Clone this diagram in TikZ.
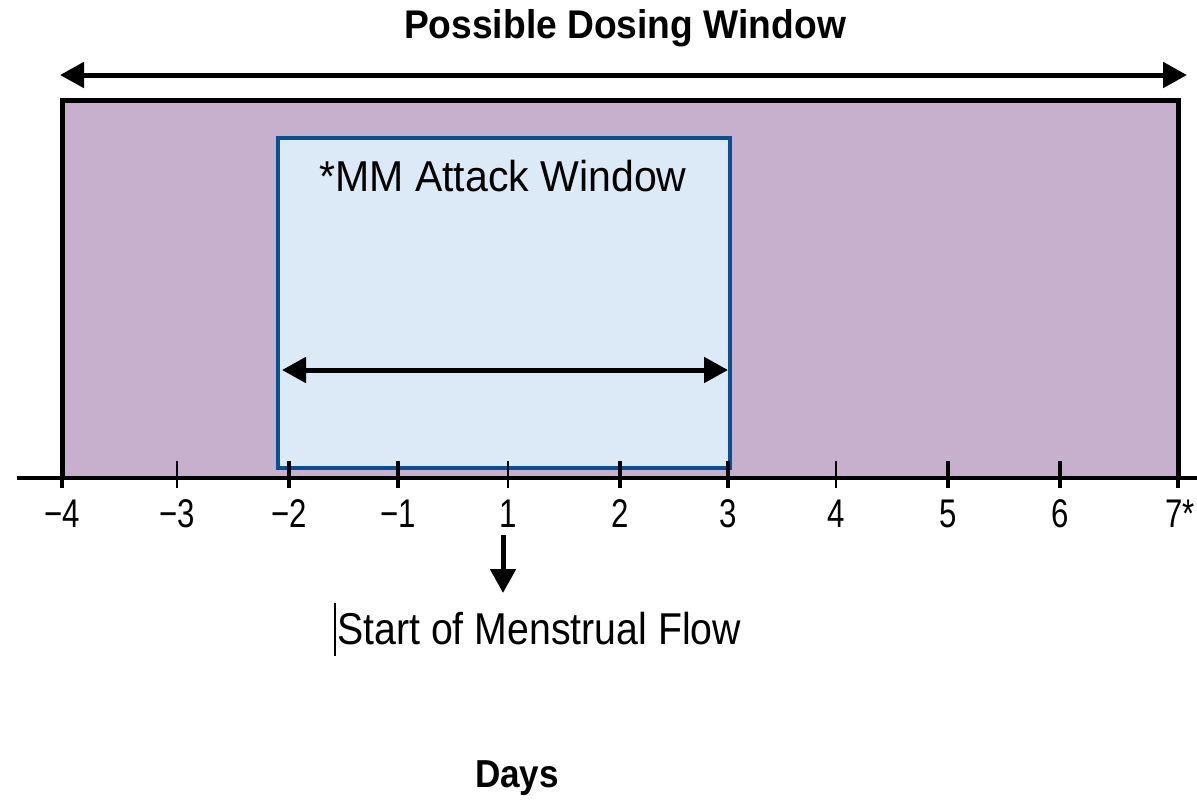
\documentclass[tikz,border=0pt]{standalone}
\usepackage{fontspec}
\usetikzlibrary{arrows.meta}
\setmainfont{Liberation Sans}
\newfontfamily\fTitle[FakeStretch=0.93]{Liberation Sans}
\newfontfamily\fMM[FakeStretch=0.95]{Liberation Sans}
\newfontfamily\fStart[FakeStretch=0.88]{Liberation Sans}
\newfontfamily\fDays[FakeStretch=0.9]{Liberation Sans}
\newfontfamily\fNum[FakeStretch=0.78]{Liberation Sans}
\definecolor{purp}{HTML}{C7AFCE}
\definecolor{lblue}{HTML}{DCE9F6}
\definecolor{dblue}{HTML}{0B4F93}
\tikzset{
  bigarrow/.style={line width=2.5pt, -{Triangle[length=12pt,width=12.5pt]}},
  dblarrow/.style={line width=2.5pt, {Triangle[length=12pt,width=12.5pt]}-{Triangle[length=12pt,width=12.5pt]}},
  thintick/.style={line width=1.2pt},
  thicktick/.style={line width=2pt},
  numlabel/.style={anchor=base, inner sep=0pt, font=\fNum\fontsize{20pt}{22pt}\selectfont},
}
\begin{document}
\begin{tikzpicture}[x=0.5pt,y=-0.5pt]
\useasboundingbox (0,0) rectangle (1197,799);
% purple window
\draw[fill=purp, line width=2.5pt] (62,478) -- (62,100) -- (1178,100) -- (1178,478);
% blue box
\draw[fill=lblue, draw=dblue, line width=2.2pt] (278,138) rectangle (730,468);
% axis
\coordinate (axL) at (17,478);
\coordinate (axR) at (1197,478);
\draw[line width=2.2pt] (axL) -- (axR);
% ticks
\foreach \x/\s in {62/thicktick,177/thintick,289/thicktick,398/thicktick,508/thintick,620/thicktick,728/thicktick,836/thintick,948/thicktick,1060/thicktick,1178/thicktick}{
  \draw[\s] (\x,461) -- (\x,488);
}
% tick labels
\node[numlabel] (lm4) at (62,527) {\char"2212 4};
\node[numlabel] (lm3) at (177,527) {\char"2212 3};
\node[numlabel] (lm2) at (289,527) {\char"2212 2};
\node[numlabel] (lm1) at (398,527) {\char"2212 1};
\node[numlabel] (l1) at (508,527) {1};
\node[numlabel] (l2) at (620,527) {2};
\node[numlabel] (l3) at (728,527) {3};
\node[numlabel] (l4) at (836,527) {4};
\node[numlabel] (l5) at (948,527) {5};
\node[numlabel] (l6) at (1060,527) {6};
\node[numlabel] (l7) at (1180,527) {7*};
% top arrow
\coordinate (tl) at (60,75);
\coordinate (tr) at (1187,75);
\draw[dblarrow] (tl) -- (tr);
\node[anchor=base, inner sep=0pt, font=\fTitle\bfseries\fontsize{20pt}{22pt}\selectfont] (title) at (625,38) {Possible Dosing Window};
% MM window
\node[anchor=base, inner sep=0pt, font=\fMM\fontsize{21.6pt}{24pt}\selectfont] (mm) at (503,191) {*MM Attack Window};
\coordinate (ml) at (282,370);
\coordinate (mr) at (728,370);
\draw[dblarrow] (ml) -- (mr);
% start of flow
\coordinate (dtop) at (503,535);
\coordinate (dbot) at (503,593);
\draw[bigarrow] (dtop) -- (dbot);
\node[anchor=base west, inner sep=0pt, font=\fStart\fontsize{22.3pt}{25pt}\selectfont] (start) at (337,644) {Start of Menstrual Flow};
\coordinate (barT) at (335,603);
\coordinate (barB) at (335,656);
\draw[line width=0.6pt] (barT) -- (barB);
% days
\node[anchor=base, inner sep=0pt, font=\fDays\bfseries\fontsize{19.5pt}{22pt}\selectfont] (days) at (517,787) {Days};
\end{tikzpicture}
\end{document}
